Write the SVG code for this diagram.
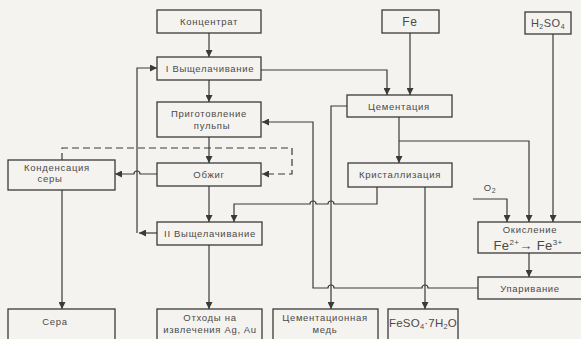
<svg xmlns="http://www.w3.org/2000/svg" width="581" height="339" viewBox="0 0 581 339">
<defs>
<marker id="ah" viewBox="0 0 10 10" refX="10" refY="5" markerWidth="7" markerHeight="7" markerUnits="userSpaceOnUse" orient="auto">
<path d="M0,0 L10,5 L0,10 z" fill="#3a3a3a"/>
</marker>
</defs>
<style>
.bx{fill:none;stroke:#3a3a3a;stroke-width:1.3}
.ln{fill:none;stroke:#3a3a3a;stroke-width:1.2}
.ds{fill:none;stroke:#3a3a3a;stroke-width:1.2;stroke-dasharray:7 4}
text{font-family:"Liberation Sans","DejaVu Sans",sans-serif;font-size:9.5px;fill:#4a4a4a;text-anchor:middle;letter-spacing:0.7px}
.big{font-size:12px;letter-spacing:0.8px}
.fes{font-size:11.5px;letter-spacing:0.2px}
.h2{font-size:11px;letter-spacing:0.5px}
.ox{font-size:13px;letter-spacing:0.4px}
</style>
<rect width="581" height="339" fill="#f5f3ef"/>
<g id="connectors">
<path class="ln" d="M209,33 V57" marker-end="url(#ah)"/>
<path class="ln" d="M209,80 V102" marker-end="url(#ah)"/>
<path class="ln" d="M209,137 V163" marker-end="url(#ah)"/>
<path class="ln" d="M209,186 V222" marker-end="url(#ah)"/>
<path class="ln" d="M209,245 V309" marker-end="url(#ah)"/>
<path class="ln" d="M157,233 H139" marker-end="url(#ah)"/>
<path class="ln" d="M137,233 V68 H157" marker-end="url(#ah)"/>
<path class="ln" d="M157,174 H140 A3 3 0 0 0 134 174 H115" marker-end="url(#ah)"/>
<path class="ln" d="M62,190 V309" marker-end="url(#ah)"/>
<path class="ds" d="M62,160 V148 H292 V174 H262" marker-end="url(#ah)"/>
<path class="ln" d="M261,70 H387 V95" marker-end="url(#ah)"/>
<path class="ln" d="M410,33 V95" marker-end="url(#ah)"/>
<path class="ln" d="M347,106 H331 V309" marker-end="url(#ah)"/>
<path class="ln" d="M399,117 V163" marker-end="url(#ah)"/>
<path class="ln" d="M399,141 H529 V222" marker-end="url(#ah)"/>
<path class="ln" d="M553,34 V222" marker-end="url(#ah)"/>
<path class="ln" d="M473,199 H507 V222" marker-end="url(#ah)"/>
<path class="ln" d="M377,187 V204 H334 A3 3 0 0 0 328 204 H316 A3 3 0 0 0 310 204 H234 V222" marker-end="url(#ah)"/>
<path class="ln" d="M425,187 V309" marker-end="url(#ah)"/>
<path class="ln" d="M529,253 V277" marker-end="url(#ah)"/>
<path class="ln" d="M478,288 H428 A3 3 0 0 0 422 288 H334 A3 3 0 0 0 328 288 H313 V122 H262" marker-end="url(#ah)"/>
<text x="490" y="191">O<tspan style="font-size:7px" dy="2">2</tspan></text>
</g>
<g id="n-koncentrat"><rect class="bx" x="157" y="10" width="104" height="23"/><text x="209" y="25">Концентрат</text></g>
<g id="n-vysh1"><rect class="bx" x="157" y="57" width="104" height="23"/><text x="210" y="72">I Выщелачивание</text></g>
<g id="n-prigot"><rect class="bx" x="157" y="102" width="104" height="35"/><text x="209" y="117">Приготовление</text><text x="212" y="129">пульпы</text></g>
<g id="n-obzhig"><rect class="bx" x="157" y="163" width="104" height="23"/><text x="209" y="178">Обжиг</text></g>
<g id="n-vysh2"><rect class="bx" x="157" y="222" width="105" height="23"/><text x="210" y="237">II Выщелачивание</text></g>
<g id="n-kondens"><rect class="bx" x="8" y="160" width="107" height="30"/><text x="57" y="171">Конденсация</text><text x="50" y="182">серы</text></g>
<g id="n-sera"><rect class="bx" x="8" y="309" width="107" height="40"/><text x="55" y="325">Сера</text></g>
<g id="n-othody"><rect class="bx" x="157" y="309" width="105" height="40"/><text x="210" y="321">Отходы на</text><text x="210" y="333">извлечения Ag, Au</text></g>
<g id="n-cemmed"><rect class="bx" x="273" y="309" width="105" height="40"/><text x="325" y="321">Цементационная</text><text x="325" y="333">медь</text></g>
<g id="n-feso4"><rect class="bx" x="388" y="309" width="70" height="40"/><text class="fes" x="423" y="327">FeSO<tspan style="font-size:7.5px" dy="2">4</tspan><tspan dy="-2">·7H</tspan><tspan style="font-size:7.5px" dy="2">2</tspan><tspan dy="-2">O</tspan></text></g>
<g id="n-fe"><rect class="bx" x="382" y="10" width="57" height="23"/><text class="big" x="410" y="26">Fe</text></g>
<g id="n-h2so4"><rect class="bx" x="525" y="12" width="46" height="22"/><text class="h2" x="548" y="27">H<tspan style="font-size:7px" dy="2">2</tspan><tspan dy="-2">SO</tspan><tspan style="font-size:7px" dy="2">4</tspan></text></g>
<g id="n-cement"><rect class="bx" x="347" y="95" width="105" height="22"/><text x="399" y="110">Цементация</text></g>
<g id="n-krist"><rect class="bx" x="348" y="163" width="104" height="24"/><text x="400" y="178">Кристаллизация</text></g>
<g id="n-okisl"><rect class="bx" x="478" y="222" width="110" height="31"/><text x="530" y="233">Окисление</text><text class="ox" x="528" y="250">Fe<tspan style="font-size:8px" dy="-5">2+</tspan><tspan dy="5">→ Fe</tspan><tspan style="font-size:8px" dy="-5">3+</tspan></text></g>
<g id="n-upariv"><rect class="bx" x="478" y="277" width="110" height="22"/><text x="530" y="292">Упаривание</text></g>
</svg>
